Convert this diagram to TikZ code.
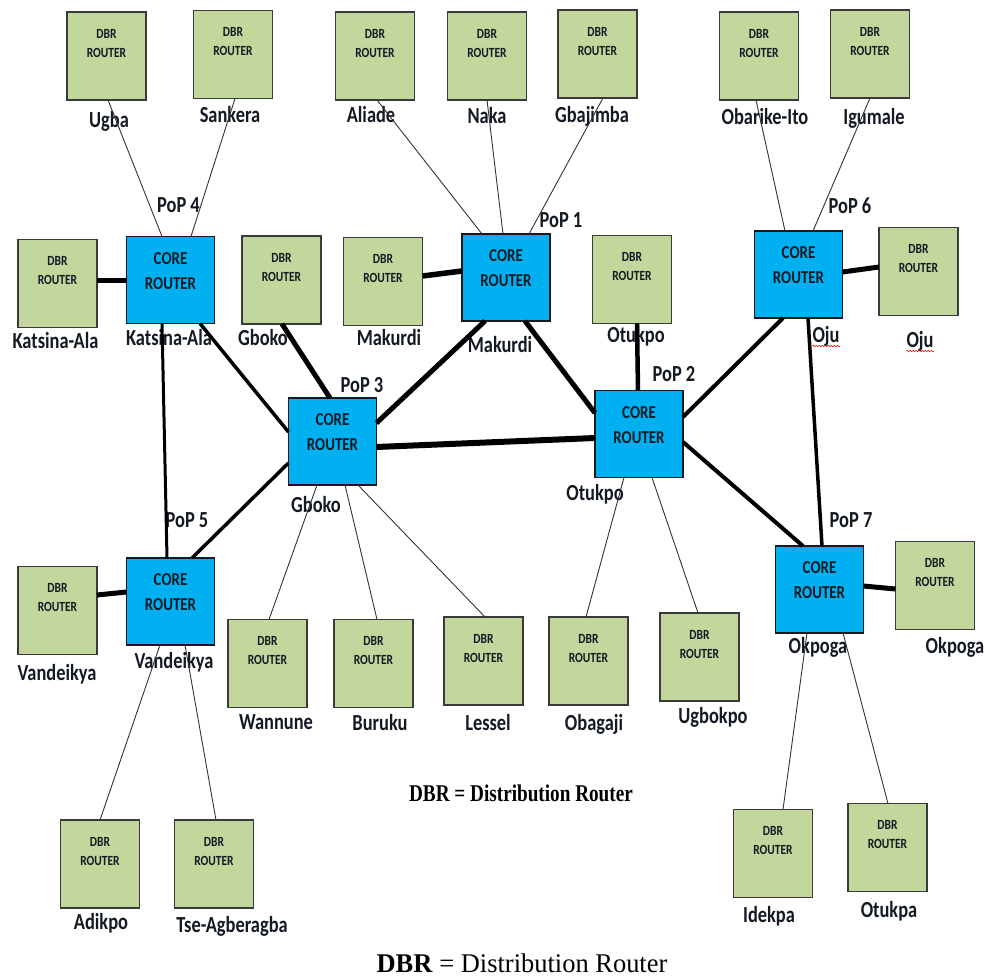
\documentclass[tikz,border=0pt]{standalone}
\usepackage{fontspec}
\usetikzlibrary{calc,decorations.pathmorphing}
\newfontfamily\lblface[FakeStretch=0.80]{Carlito}
\newfontfamily\boxface[FakeStretch=0.82]{Carlito}
\newfontfamily\legface[FakeStretch=0.8]{Liberation Serif}
\newfontfamily\capface[FakeStretch=0.98]{Liberation Serif}
\definecolor{dbrgreen}{HTML}{C3D69B}
\definecolor{coreblue}{HTML}{00B0F0}
\definecolor{edgegray}{HTML}{3A3A3A}
\definecolor{inkc}{HTML}{141A24}
\newcommand\dbrtxt{\parbox[t][88pt][t]{79pt}{\centering\boxface\bfseries\fontsize{14}{19}\selectfont\vspace*{17pt}DBR\\ROUTER}}
\newcommand\coretxt{\parbox[t][87pt][t]{88pt}{\centering\boxface\bfseries\fontsize{18.2}{25}\selectfont\vspace*{16pt}CORE\\ROUTER}}
\begin{document}
\begin{tikzpicture}[x=1pt,y=-1pt,line cap=butt,
  dbr/.style={draw=edgegray,line width=1.4pt,fill=dbrgreen,inner sep=0pt,outer sep=0pt,text=inkc},
  core/.style={draw=black!90,line width=1.4pt,fill=coreblue,inner sep=0pt,outer sep=0pt,text=inkc},
  lbl/.style={anchor=base,inner sep=0pt,font=\lblface\bfseries\fontsize{23}{27}\selectfont,text=inkc},
  tie/.style={draw=black!80,line width=0.9pt},
  trunk/.style={draw=black,line width=#1},
  squig/.style={draw=red,line width=0.6pt,decorate,decoration={snake,segment length=3pt,amplitude=0.8pt}}]
\useasboundingbox (0,0) rectangle (985,977);

% ---------- labels ----------
\node[lbl] (lugba) at (109,127) {Ugba};
\node[lbl] (lsank) at (230,122) {Sankera};
\node[lbl] (lali) at (371,122) {Aliade};
\node[lbl] (lnaka) at (487,123) {Naka};
\node[lbl] (lgbaj) at (592,122) {Gbajimba};
\node[lbl] (lobar) at (765,124) {Obarike-Ito};
\node[lbl] (ligum) at (874,124) {Igumale};
\node[lbl] (lkatd) at (55.5,348) {Katsina-Ala};
\node[lbl] (lp4) at (169,345) {Katsina-Ala};
\node[lbl] (lgbokd) at (263,345) {Gboko};
\node[lbl] (lmakd) at (389,345) {Makurdi};
\node[lbl] (lp1) at (500,352) {Makurdi};
\node[lbl] (lotud) at (636,342) {Otukpo};
\node[lbl] (lp6) at (826,342) {Oju};
\node[lbl] (lojud) at (920,347) {Oju};
\node[lbl] (pop4) at (178.5,212) {PoP 4};
\node[lbl] (pop1) at (561,227) {PoP 1};
\node[lbl] (pop6) at (850,213) {PoP 6};
\node[lbl] (pop3) at (362,392) {PoP 3};
\node[lbl] (lp3) at (316,512) {Gboko};
\node[lbl] (pop2) at (674,381) {PoP 2};
\node[lbl] (lp2) at (595,500) {Otukpo};
\node[lbl] (pop5) at (187,527) {PoP 5};
\node[lbl] (lp5) at (174,668) {Vandeikya};
\node[lbl] (lvand) at (57,680) {Vandeikya};
\node[lbl] (lwann) at (276,729) {Wannune};
\node[lbl] (lburu) at (380,730) {Buruku};
\node[lbl] (lless) at (488,730) {Lessel};
\node[lbl] (lobag) at (594,730) {Obagaji};
\node[lbl] (lugbo) at (713,723) {Ugbokpo};
\node[lbl] (pop7) at (851,527) {PoP 7};
\node[lbl] (lp7) at (818,653) {Okpoga};
\node[lbl] (lokpd) at (955,653) {Okpoga};
\node[lbl] (ladik) at (101,929) {Adikpo};
\node[lbl] (ltse) at (232,932) {Tse-Agberagba};
\node[lbl] (lidek) at (769,922) {Idekpa};
\node[lbl] (lotkpa) at (889,917) {Otukpa};
\path[squig] ([yshift=-4pt]lp6.base west) -- ([yshift=-4pt]lp6.base east);
\path[squig] ([yshift=-4pt]lojud.base west) -- ([yshift=-4pt]lojud.base east);

\node[anchor=base,inner sep=0pt,font=\legface\bfseries\fontsize{24}{28}\selectfont] (legend) at (521,801) {DBR = Distribution Router};
\node[anchor=base,inner sep=0pt,font=\capface\fontsize{27}{30}\selectfont] (caption) at (522,972) {\textbf{DBR} = Distribution Router};

% ---------- DBR routers ----------
\node[dbr] (ugba) at (106.5,56) {\dbrtxt};
\node[dbr] (sankera) at (233,54.5) {\dbrtxt};
\node[dbr] (aliade) at (375,56) {\dbrtxt};
\node[dbr] (naka) at (487,56) {\dbrtxt};
\node[dbr] (gbaj) at (597.5,54) {\dbrtxt};
\node[dbr] (obar) at (759,56) {\dbrtxt};
\node[dbr] (igum) at (870,54) {\dbrtxt};
\node[dbr] (katd) at (57.5,283.5) {\dbrtxt};
\node[dbr] (gbokd) at (281.5,280) {\dbrtxt};
\node[dbr] (makd) at (383,281.5) {\dbrtxt};
\node[dbr] (otud) at (632,279.5) {\dbrtxt};
\node[dbr] (ojud) at (918.5,271.5) {\dbrtxt};
\node[dbr] (vand) at (57.5,610.5) {\dbrtxt};
\node[dbr] (wann) at (267.5,663.5) {\dbrtxt};
\node[dbr] (buru) at (373.5,663.5) {\dbrtxt};
\node[dbr] (less) at (483.5,661) {\dbrtxt};
\node[dbr] (obag) at (588.5,661) {\dbrtxt};
\node[dbr] (ugbo) at (699.5,657) {\dbrtxt};
\node[dbr] (okpd) at (935,585.5) {\dbrtxt};
\node[dbr] (adik) at (100,864) {\dbrtxt};
\node[dbr] (tse) at (214,864) {\dbrtxt};
\node[dbr] (idek) at (773,853.5) {\dbrtxt};
\node[dbr] (otkpa) at (887.5,847.5) {\dbrtxt};

% ---------- core routers ----------
\node[core] (p4) at (170.5,280) {\coretxt};
\node[core] (p1) at (506,277.5) {\coretxt};
\node[core] (p6) at (798.5,274.5) {\coretxt};
\node[core] (p3) at (332.5,441.5) {\coretxt};
\node[core] (p2) at (639,434) {\coretxt};
\node[core] (p5) at (170.5,601.5) {\coretxt};
\node[core] (p7) at (819.5,589.5) {\coretxt};

% ---------- thin access links ----------
\draw[tie] ([xshift=1.5pt]ugba.south) -- ([xshift=-8.5pt]p4.north);
\draw[tie] ([xshift=2pt]sankera.south) -- ([xshift=20.5pt]p4.north);
\draw[tie] ([xshift=2pt]aliade.south) -- ([xshift=-24pt]p1.north);
\draw[tie] (naka.south) -- ([xshift=-3pt]p1.north);
\draw[tie] ([xshift=5.5pt]gbaj.south) -- ([xshift=23pt]p1.north);
\draw[tie] ([xshift=-3pt]obar.south) -- ([xshift=-13.5pt]p6.north);
\draw[tie] (igum.south) -- ([xshift=14.5pt]p6.north);
\draw[tie] ([xshift=-15.5pt]p3.south) -- ([xshift=1.5pt]wann.north);
\draw[tie] ([xshift=12.5pt]p3.south) -- ([xshift=3.5pt]buru.north);
\draw[tie] ([xshift=25.5pt]p3.south) -- ([xshift=1.5pt]less.north);
\draw[tie] ([xshift=-15pt]p2.south) -- ([xshift=-2.5pt]obag.north);
\draw[tie] ([xshift=13pt]p2.south) -- ([xshift=-1.5pt]ugbo.north);
\draw[tie] ([xshift=-10.5pt]p5.south) -- (adik.north);
\draw[tie] ([xshift=14.5pt]p5.south) -- ([xshift=2pt]tse.north);
\draw[tie] ([xshift=-12.5pt]p7.south) -- ([xshift=10pt]idek.north);
\draw[tie] ([xshift=23.5pt]p7.south) -- ([xshift=0.5pt]otkpa.north);

% ---------- thick DBR-core links ----------
\draw[trunk=5pt] ([yshift=3.5pt]katd.east) -- (p4.west);
\draw[trunk=5.5pt] ([yshift=5.5pt]makd.east) -- ([yshift=6.5pt]p1.west);
\draw[trunk=5pt] ([yshift=2.5pt]p6.east) -- ([yshift=4.5pt]ojud.west);
\draw[trunk=5pt] ([yshift=15.5pt]vand.east) -- ([yshift=9.5pt]p5.west);
\draw[trunk=5pt] ([yshift=3.5pt]p7.east) -- ([yshift=-3.5pt]okpd.west);
\draw[trunk=5pt] ([xshift=0.5pt]gbokd.south) -- ([xshift=-2.5pt]p3.north);
\draw[trunk=4.5pt] ([xshift=5pt]otud.south) -- ([xshift=-1pt]p2.north);

% ---------- core-core links ----------
\draw[trunk=3pt] ([xshift=-8.5pt]p4.south) -- ([xshift=-3.5pt]p5.north);
\draw[trunk=3.5pt] ([xshift=29.5pt]p4.south) -- ([yshift=9.5pt]p3.west);
\draw[trunk=3.5pt] ([yshift=-21.5pt]p3.west) -- ([xshift=21.5pt]p5.north);
\draw[trunk=5pt] ([xshift=-21pt]p1.south) -- ([yshift=18.5pt]p3.east);
\draw[trunk=5pt] ([xshift=19pt]p1.south) -- ([yshift=21pt]p2.west);
\draw[trunk=6pt] ([yshift=-5.5pt]p3.east) -- ([yshift=-4pt]p2.west);
\draw[trunk=4pt] ([yshift=17pt]p2.east) -- ([xshift=-15.5pt]p6.south);
\draw[trunk=4pt] ([yshift=-8pt]p2.east) -- ([xshift=-16.5pt]p7.north);
\draw[trunk=3.5pt] ([xshift=9.5pt]p6.south) -- ([xshift=2.5pt]p7.north);
\end{tikzpicture}
\end{document}
